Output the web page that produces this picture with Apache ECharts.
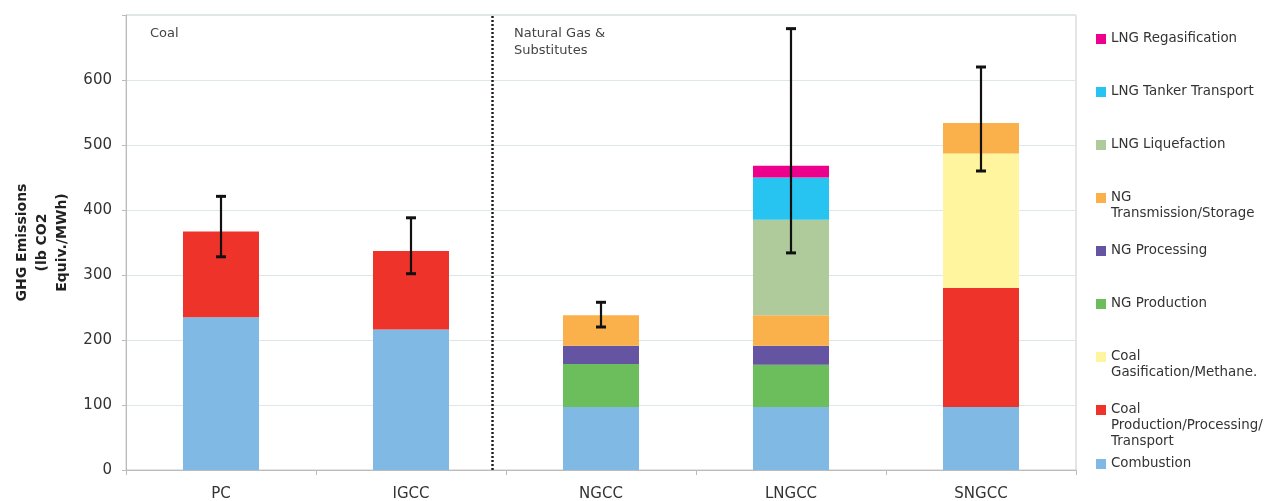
<!DOCTYPE html>
<html>
<head>
<meta charset="utf-8">
<script src="https://cdn.jsdelivr.net/npm/echarts@6/dist/echarts.min.js"></script>
<style>html,body{margin:0;padding:0;background:#fff}#c{width:1265px;height:501px}</style>
</head>
<body>
<div id="c"></div>
<script>
const categories = ['PC', 'IGCC', 'NGCC', 'LNGCC', 'SNGCC'];
const yTicks = [0, 100, 200, 300, 400, 500, 600];
const combustion = [235, 216, 97, 97, 97];
const coalProduction = [132, 121, null, null, 183];
const coalGasification = [null, null, null, null, 207];
const ngProduction = [null, null, 66, 65, null];
const ngProcessing = [null, null, 28, 29, null];
const ngTransmission = [null, null, 47, 47, 47];
const lngLiquefaction = [null, null, null, 147, null];
const lngTanker = [null, null, null, 65, null];
const lngRegas = [null, null, null, 18, null];
const errLow = [328, 302, 220, 334, 460];
const errHigh = [421, 388, 258, 679, 620];
const groupDivider = 1.93;

const seriesDefs = [
  {name: 'Combustion', data: combustion, color: '#7FB9E4', lines: 1, top: 456},
  {name: 'Coal\nProduction/Processing/\nTransport', data: coalProduction, color: '#EE332B', lines: 3, top: 402},
  {name: 'Coal\nGasification/Methane.', data: coalGasification, color: '#FFF59F', lines: 2, top: 349},
  {name: 'NG Production', data: ngProduction, color: '#6BBE5B', lines: 1, top: 296},
  {name: 'NG Processing', data: ngProcessing, color: '#6454A2', lines: 1, top: 243},
  {name: 'NG\nTransmission/Storage', data: ngTransmission, color: '#FBB14B', lines: 2, top: 190},
  {name: 'LNG Liquefaction', data: lngLiquefaction, color: '#AFCB9C', lines: 1, top: 137},
  {name: 'LNG Tanker Transport', data: lngTanker, color: '#27C4F1', lines: 1, top: 84},
  {name: 'LNG Regasification', data: lngRegas, color: '#EC008C', lines: 1, top: 31}
];

const series = seriesDefs.map(d => ({
  name: d.name, type: 'bar', stack: 'total', data: d.data, barWidth: '40%',
  itemStyle: {color: d.color}, emphasis: {disabled: true}
}));

series.push({
  type: 'custom', name: 'err',
  data: categories.map((c, i) => [i, errLow[i], errHigh[i]]),
  encode: {x: 0, y: [1, 2]},
  z: 10,
  renderItem: function (params, api) {
    const lo = api.coord([api.value(0), api.value(1)]);
    const hi = api.coord([api.value(0), api.value(2)]);
    const hw = 5;
    const st = {stroke: '#111', lineWidth: 2.2};
    return {type: 'group', children: [
      {type: 'line', shape: {x1: hi[0], y1: hi[1], x2: lo[0], y2: lo[1]}, style: st},
      {type: 'line', shape: {x1: hi[0] - hw, y1: hi[1], x2: hi[0] + hw, y2: hi[1]}, style: {stroke: '#111', lineWidth: 3}},
      {type: 'line', shape: {x1: lo[0] - hw, y1: lo[1], x2: lo[0] + hw, y2: lo[1]}, style: {stroke: '#111', lineWidth: 3}}
    ]};
  }
});

series.push({
  type: 'line', name: 'divider', xAxisIndex: 1, yAxisIndex: 0, data: [], silent: true,
  markLine: {
    silent: true, symbol: ['none', 'none'], label: {show: false},
    lineStyle: {color: '#222', width: 2.5, type: [2, 2]},
    data: [{xAxis: groupDivider}]
  }
});

const legends = seriesDefs.map(d => {
  const h = d.lines * 16;
  const icon = d.lines === 1 ? 'rect' : 'path://M0,0 M0,3h10v10h-10z M0,' + h;
  return {
    data: [{name: d.name, icon: icon}],
    left: 1096, top: d.top, padding: 0,
    itemWidth: 10, itemHeight: d.lines === 1 ? 10 : h,
    selectedMode: false,
    textStyle: {fontFamily: 'DejaVu Sans', fontSize: 13.4, color: '#333', lineHeight: 16}
  };
});

const chart = echarts.init(document.getElementById('c'), null, {renderer: 'canvas'});
chart.setOption({
  animation: false,
  backgroundColor: '#fff',
  grid: {left: 126, right: 189, top: 15, bottom: 31, show: true, borderColor: '#c8cccd', borderWidth: 1,
         containLabel: false, outerBoundsMode: 'none'},
  title: [
    {text: 'Coal', left: 145, top: 20, textStyle: {fontFamily: 'DejaVu Sans', fontSize: 13, fontWeight: 'normal', color: '#444', lineHeight: 17}},
    {text: 'Natural Gas &\nSubstitutes', left: 509, top: 20, textStyle: {fontFamily: 'DejaVu Sans', fontSize: 13, fontWeight: 'normal', color: '#444', lineHeight: 17}}
  ],
  legend: legends,
  xAxis: [
    {type: 'category', data: categories,
     axisLine: {lineStyle: {color: '#bbb'}},
     axisTick: {show: true, length: 5, lineStyle: {color: '#bbb'}},
     axisLabel: {fontFamily: 'DejaVu Sans', fontSize: 15, color: '#333', margin: 17}},
    {type: 'value', min: 0, max: 5, show: false}
  ],
  yAxis: {
    type: 'value', min: 0, max: 700, interval: 100,
    name: 'GHG Emissions\n(lb CO2\nEquiv./MWh)', nameLocation: 'middle', nameGap: 51,
    nameTextStyle: {fontFamily: 'DejaVu Sans', fontSize: 14, fontWeight: 'bold', color: '#222', lineHeight: 20},
    axisLine: {show: true, lineStyle: {color: '#bbb'}},
    axisTick: {show: true, length: 4, lineStyle: {color: '#bbb'}},
    axisLabel: {fontFamily: 'DejaVu Sans', fontSize: 15, color: '#333', margin: 14,
      formatter: v => (yTicks.indexOf(v) >= 0 ? String(v) : '')},
    splitLine: {lineStyle: {color: '#dde6e8'}}
  },
  series: series
});
</script>
</body>
</html>
